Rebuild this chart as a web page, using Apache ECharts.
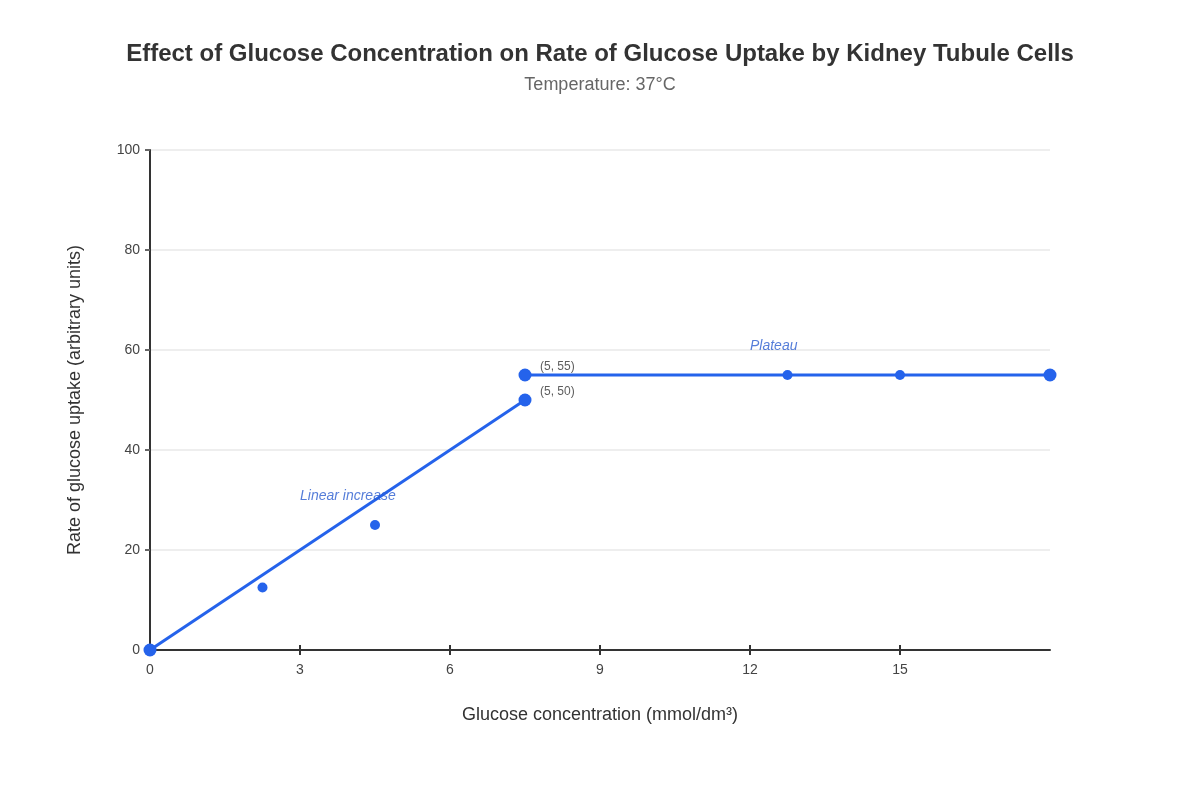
<!DOCTYPE html>
<html>
<head>
<meta charset="utf-8">
<script src="https://cdn.jsdelivr.net/npm/echarts@6/dist/echarts.min.js"></script>
<style>html,body{margin:0;padding:0;background:#fff;}#c{width:1200px;height:800px;}</style>
</head>
<body>
<div id="c"></div>
<script>
const titleText = 'Effect of Glucose Concentration on Rate of Glucose Uptake by Kidney Tubule Cells';
const subtitleText = 'Temperature: 37°C';
const xName = 'Glucose concentration (mmol/dm³)';
const yName = 'Rate of glucose uptake (arbitrary units)';
const xTicks = [0, 3, 6, 9, 12, 15];
const linearSegment = [[0, 0], [7.5, 50]];
const plateauSegment = [[7.5, 55], [18, 55]];
const largePoints = [[0, 0], [7.5, 50], [7.5, 55], [18, 55]];
const smallPoints = [[2.25, 12.5], [4.5, 25], [12.75, 55], [15, 55]];
const pointLabels = [{ value: [7.5, 55], text: '(5, 55)' }, { value: [7.5, 50], text: '(5, 50)' }];
const annotations = [{ value: [3, 30.8], text: 'Linear increase' }, { value: [12, 60.8], text: 'Plateau' }];

const blue = '#2563eb';
const font = '"Liberation Sans", Arial, sans-serif';
const chart = echarts.init(document.getElementById('c'));
chart.setOption({
  backgroundColor: '#fff',
  textStyle: { fontFamily: font },
  title: {
    text: titleText, subtext: subtitleText, left: 'center', top: 37, itemGap: 10,
    textStyle: { fontFamily: font, fontSize: 24, fontWeight: 'bold', color: '#333' },
    subtextStyle: { fontFamily: font, fontSize: 18, color: '#666' }
  },
  grid: { left: 150, right: 150, top: 150, bottom: 150 },
  xAxis: [{
    type: 'value', min: 0, max: 18, interval: 3,
    name: xName, nameLocation: 'middle', nameGap: 56,
    nameTextStyle: { fontSize: 18, color: '#333', fontFamily: font },
    axisLine: { show: true, onZero: false, lineStyle: { color: '#333', width: 2 } },
    axisTick: { show: true, length: 5, lineStyle: { color: '#333', width: 2 }, customValues: xTicks },
    axisLabel: { color: '#444', fontSize: 14, margin: 13, customValues: xTicks },
    splitLine: { show: false }
  }, {
    type: 'value', min: 0, max: 18, interval: 3, position: 'bottom',
    axisLine: { show: false },
    axisTick: { show: true, inside: true, length: 5, lineStyle: { color: '#333', width: 2 }, customValues: xTicks },
    axisLabel: { show: false },
    splitLine: { show: false }
  }],
  yAxis: {
    type: 'value', min: 0, max: 100, interval: 20,
    name: yName, nameLocation: 'middle', nameGap: 66,
    nameTextStyle: { fontSize: 18, color: '#333', fontFamily: font },
    axisLine: { show: true, lineStyle: { color: '#333', width: 2 } },
    axisTick: { show: true, length: 5, lineStyle: { color: '#666', width: 2 } },
    axisLabel: { color: '#444', fontSize: 14, margin: 10, padding: [2, 0, 0, 0] },
    splitLine: { show: true, lineStyle: { color: '#e8e8e8', width: 1.5 } }
  },
  series: [
    { type: 'line', data: linearSegment, showSymbol: false, symbol: 'none', lineStyle: { color: blue, width: 3 }, z: 2, animation: false },
    { type: 'line', data: plateauSegment, showSymbol: false, symbol: 'none', lineStyle: { color: blue, width: 3 }, z: 2, animation: false },
    { type: 'scatter', data: largePoints, symbolSize: 13, itemStyle: { color: blue, opacity: 1 }, z: 3, animation: false },
    { type: 'scatter', data: smallPoints, symbolSize: 10, itemStyle: { color: blue, opacity: 1 }, z: 3, animation: false },
    {
      type: 'scatter', symbolSize: 0, z: 4, animation: false, silent: true,
      data: pointLabels.map(p => ({ value: p.value, name: p.text })),
      label: { show: true, position: 'right', distance: 15, offset: [0, -8], formatter: p => p.name, color: '#333', fontSize: 12, fontFamily: font }
    },
    {
      type: 'scatter', symbolSize: 0, z: 4, animation: false, silent: true,
      data: annotations.map(p => ({ value: p.value, name: p.text })),
      label: { show: true, position: 'right', distance: 0, formatter: p => p.name, color: '#2a5cd0', fontSize: 14, fontStyle: 'italic', fontFamily: font }
    }
  ]
});
</script>
</body>
</html>
